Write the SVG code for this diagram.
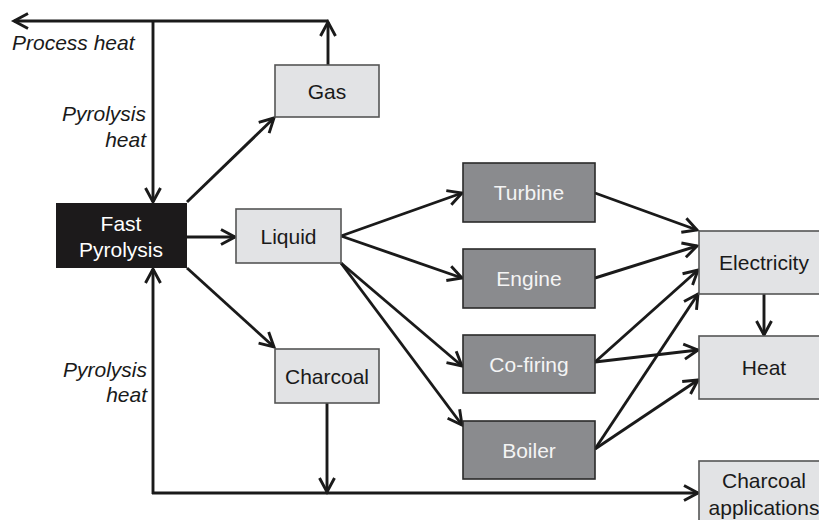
<svg xmlns="http://www.w3.org/2000/svg" width="819" height="520" viewBox="0 0 819 520">
<style>
text{font-family:"Liberation Sans",Arial,sans-serif;font-size:21px;text-anchor:middle}
.lt rect{fill:#e2e3e5;stroke:#555;stroke-width:1.6}
.dk rect{fill:#8a8b8e;stroke:#2a2a2a;stroke-width:1.6}
.lt text{fill:#1a1a1a}
.dk text{fill:#f4f4f4}
.lbl{font-style:italic;fill:#1a1a1a;text-anchor:end}
#edges line,#edges path{stroke:#1a1a1a;stroke-width:2.9;fill:none}
.a{marker-end:url(#ah)}
</style>
<defs>
<marker id="ah" markerUnits="userSpaceOnUse" viewBox="-16 -10 20 20" refX="0" refY="0" markerWidth="20" markerHeight="20" orient="auto">
<path d="M-14,-7.5 L0,0 L-14,7.5" fill="none" stroke="#1a1a1a" stroke-width="2.9" stroke-linejoin="miter"/>
</marker>
</defs>
<rect width="819" height="520" fill="#fff"/>
<g id="edges">
<line class="a" x1="328" y1="21" x2="14" y2="21"/>
<line class="a" x1="328" y1="65" x2="328" y2="22"/>
<line class="a" x1="153" y1="21" x2="153" y2="202"/>
<line class="a" x1="153" y1="494" x2="153" y2="269"/>
<line class="a" x1="152" y1="493" x2="698" y2="493"/>
<line class="a" x1="327" y1="403" x2="327" y2="492"/>
<line class="a" x1="187" y1="202" x2="274" y2="118"/>
<line class="a" x1="187" y1="237" x2="235" y2="237"/>
<line class="a" x1="187" y1="268" x2="274" y2="347"/>
<line class="a" x1="341" y1="236" x2="462" y2="193"/>
<line class="a" x1="341" y1="236" x2="462" y2="278"/>
<line class="a" x1="341" y1="263" x2="462" y2="366"/>
<line class="a" x1="341" y1="263" x2="462" y2="425"/>
<line class="a" x1="595" y1="193" x2="697" y2="230"/>
<line class="a" x1="595" y1="278" x2="697" y2="246"/>
<line class="a" x1="595" y1="362" x2="698" y2="270"/>
<line class="a" x1="595" y1="449" x2="698" y2="294"/>
<line class="a" x1="595" y1="362" x2="698" y2="350"/>
<line class="a" x1="595" y1="449" x2="698" y2="380"/>
<line class="a" x1="764" y1="294" x2="764" y2="335"/>
</g>
<g id="fast">
<rect x="56" y="203" width="131" height="65" fill="#1c1a1b"/>
<text x="121" y="231" fill="#fff">Fast</text>
<text x="121" y="257" fill="#fff">Pyrolysis</text>
</g>
<g id="gas" class="lt"><rect x="275" y="65" width="104" height="52"/><text x="327" y="98.5">Gas</text></g>
<g id="liquid" class="lt"><rect x="236" y="209" width="105" height="54"/><text x="288.5" y="243.5">Liquid</text></g>
<g id="charcoal" class="lt"><rect x="275" y="349" width="104" height="54"/><text x="327" y="383.5">Charcoal</text></g>
<g id="turbine" class="dk"><rect x="463" y="163" width="132" height="59"/><text x="529" y="200">Turbine</text></g>
<g id="engine" class="dk"><rect x="463" y="249" width="132" height="59"/><text x="529" y="286">Engine</text></g>
<g id="cofiring" class="dk"><rect x="463" y="335" width="132" height="58"/><text x="529" y="371.5">Co-firing</text></g>
<g id="boiler" class="dk"><rect x="463" y="421" width="132" height="58"/><text x="529" y="457.5">Boiler</text></g>
<g id="electricity" class="lt"><rect x="699" y="231" width="130" height="63"/><text x="764" y="270">Electricity</text></g>
<g id="heat" class="lt"><rect x="699" y="336" width="130" height="63"/><text x="764" y="375">Heat</text></g>
<g id="charcoalapp" class="lt"><rect x="699" y="461" width="130" height="70"/><text x="764" y="488">Charcoal</text><text x="764" y="515">applications</text></g>
<g id="labels">
<text class="lbl" x="12" y="50" style="text-anchor:start">Process heat</text>
<text class="lbl" x="146" y="121">Pyrolysis</text>
<text class="lbl" x="146" y="147">heat</text>
<text class="lbl" x="147" y="377">Pyrolysis</text>
<text class="lbl" x="147" y="402">heat</text>
</g>
</svg>
